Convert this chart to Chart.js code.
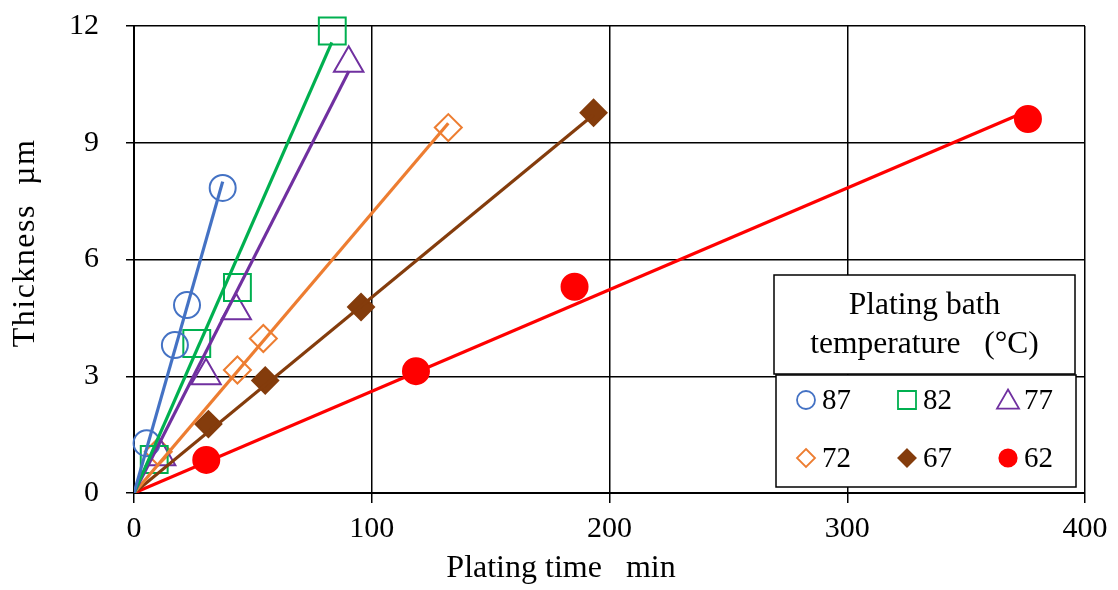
<!DOCTYPE html>
<html>
<head>
<meta charset="utf-8">
<title>Plating thickness vs time</title>
<script src="https://cdn.jsdelivr.net/npm/chart.js@4/dist/chart.umd.min.js"></script>
<style>
  html, body { margin: 0; padding: 0; background: #fff; }
  #wrap { width: 1118px; height: 590px; }
</style>
</head>
<body>
<div id="wrap"><canvas id="c" width="1118" height="590"></canvas></div>
<script>
// Plating bath temperatures (°C), one series each
const temps = ['87', '82', '77', '72', '67', '62'];

// Measured points: plating time (min) and thickness (µm)
const time87 = [5.3, 17.2, 22.3, 37.3];
const thick87 = [1.28, 3.80, 4.83, 7.84];
const time82 = [8.5, 26.4, 43.5, 83.4];
const thick82 = [0.86, 3.84, 5.28, 11.87];
const time77 = [11.2, 30.3, 43.0, 90.3];
const thick77 = [0.93, 3.01, 4.68, 11.04];
const time72 = [10.2, 43.5, 54.4, 132.2];
const thick72 = [1.06, 3.16, 3.97, 9.39];
const time67 = [31.3, 55.2, 95.5, 193.3];
const thick67 = [1.77, 2.89, 4.78, 9.77];
const time62 = [30.4, 118.6, 185.3, 376.0];
const thick62 = [0.85, 3.13, 5.30, 9.61];

// Linear fits through the origin: end point of each fitted line
const fitTime = [37.3, 83.2, 90.4, 132.2, 193.3, 376.0];
const fitThick = [8.0, 11.58, 10.84, 9.5, 9.72, 9.82];

// Axis ticks
const xTicks = [0, 100, 200, 300, 400];
const yTicks = [0, 3, 6, 9, 12];

const times = [time87, time82, time77, time72, time67, time62];
const thicks = [thick87, thick82, thick77, thick72, thick67, thick62];
const colors = ['#4472C4', '#00B050', '#7030A0', '#ED7D31', '#843C0C', '#FF0000'];
const shapes = ['circle', 'rect', 'triangle', 'rectRot', 'rectRot', 'circle'];
const filled = [false, false, false, false, true, true];
const radii = [13, 19, 17, 13.5, 13, 13];
const FONT = "'Liberation Serif', 'Times New Roman', serif";

const datasets = [];
temps.forEach((t, i) => {
  datasets.push({
    label: t,
    data: times[i].map((x, k) => ({ x: x, y: thicks[i][k] })),
    showLine: false,
    clip: false,
    pointStyle: shapes[i],
    pointRadius: radii[i],
    pointHoverRadius: radii[i],
    pointBorderWidth: 2,
    pointBorderColor: colors[i],
    pointBackgroundColor: filled[i] ? colors[i] : 'rgba(0,0,0,0)',
    order: 1
  });
});
temps.forEach((t, i) => {
  datasets.push({
    label: t + ' fit',
    data: [{ x: 0, y: 0 }, { x: fitTime[i], y: fitThick[i] }],
    showLine: true,
    borderColor: colors[i],
    borderWidth: 3.2,
    pointRadius: 0,
    pointHoverRadius: 0,
    fill: false,
    order: 0
  });
});

// Draw one legend marker
function marker(ctx, shape, x, y, r, color, fill) {
  ctx.beginPath();
  if (shape === 'circle') {
    ctx.arc(x, y, r, 0, Math.PI * 2);
  } else if (shape === 'rect') {
    ctx.rect(x - r, y - r, 2 * r, 2 * r);
  } else if (shape === 'triangle') {
    const h = r * Math.sqrt(3);
    ctx.moveTo(x, y - h / 2 - 1);
    ctx.lineTo(x + r, y + h / 2 - 1);
    ctx.lineTo(x - r, y + h / 2 - 1);
    ctx.closePath();
  } else {
    ctx.moveTo(x, y - r);
    ctx.lineTo(x + r, y);
    ctx.lineTo(x, y + r);
    ctx.lineTo(x - r, y);
    ctx.closePath();
  }
  if (fill) { ctx.fillStyle = color; ctx.fill(); }
  ctx.strokeStyle = color;
  ctx.lineWidth = 1.8;
  ctx.stroke();
}

const overlay = {
  id: 'overlay',
  afterDraw(chart) {
    const ctx = chart.ctx;
    const a = chart.chartArea;
    ctx.save();

    // Axis titles
    ctx.fillStyle = '#000';
    ctx.font = '32px ' + FONT;
    ctx.textAlign = 'center';
    ctx.textBaseline = 'alphabetic';
    ctx.fillText('Plating time   min', 561, 577);

    ctx.save();
    ctx.translate(34, 243);
    ctx.rotate(-Math.PI / 2);
    if ('letterSpacing' in ctx) ctx.letterSpacing = '1.5px';
    ctx.fillText('Thickness  µm', 0, 0);
    ctx.restore();

    // Legend: title box
    const lx = a.right - 311, ly = a.top + 249;
    ctx.fillStyle = '#fff';
    ctx.fillRect(lx, ly, 301, 99);
    ctx.strokeStyle = '#000';
    ctx.lineWidth = 1.5;
    ctx.strokeRect(lx, ly, 301, 99);
    ctx.fillStyle = '#000';
    ctx.font = '31.5px ' + FONT;
    ctx.textAlign = 'center';
    ctx.fillText('Plating bath', lx + 150.5, ly + 39);
    ctx.fillText('temperature   (°C)', lx + 150.5, ly + 78);

    // Legend: entries box
    const ex = lx + 2, ey = ly + 100;
    ctx.fillStyle = '#fff';
    ctx.fillRect(ex, ey, 300, 112);
    ctx.strokeStyle = '#000';
    ctx.strokeRect(ex, ey, 300, 112);

    const legR = [9, 9, 11, 9, 8.7, 8.7];
    ctx.font = '29px ' + FONT;
    ctx.textAlign = 'left';
    temps.forEach((t, i) => {
      const col = i % 3, row = Math.floor(i / 3);
      const mx = lx + 32 + col * 101;
      const my = ly + 125 + row * 58;
      marker(ctx, shapes[i], mx, my, legR[i], colors[i], filled[i]);
      ctx.fillStyle = '#000';
      ctx.fillText(t, mx + 16, my + 9);
    });
    ctx.restore();
  }
};

new Chart(document.getElementById('c'), {
  type: 'scatter',
  data: { datasets: datasets },
  plugins: [overlay],
  options: {
    responsive: false,
    animation: false,
    events: [],
    layout: { autoPadding: false, padding: { left: 0, top: 26, right: 33, bottom: 0 } },
    plugins: {
      legend: { display: false },
      tooltip: { enabled: false },
      title: { display: false }
    },
    scales: {
      x: {
        type: 'linear',
        min: 0,
        max: 400,
        afterBuildTicks: (s) => { s.ticks = xTicks.map(v => ({ value: v })); },
        afterFit: (s) => { s.height = 97; },
        ticks: { color: '#000', font: { family: FONT, size: 30 }, padding: 8, maxRotation: 0 },
        grid: { color: '#000', lineWidth: 1.5, tickLength: 10, drawTicks: true },
        border: { color: '#000', width: 2 }
      },
      y: {
        type: 'linear',
        min: 0,
        max: 12,
        afterBuildTicks: (s) => { s.ticks = yTicks.map(v => ({ value: v })); },
        afterFit: (s) => { s.width = 134; s.paddingTop = 0; s.paddingBottom = 0; },
        ticks: { color: '#000', font: { family: FONT, size: 30 }, padding: 27 },
        grid: { color: '#000', lineWidth: 1.5, tickLength: 8, drawTicks: true },
        border: { color: '#000', width: 2 }
      }
    }
  }
});
</script>
</body>
</html>
